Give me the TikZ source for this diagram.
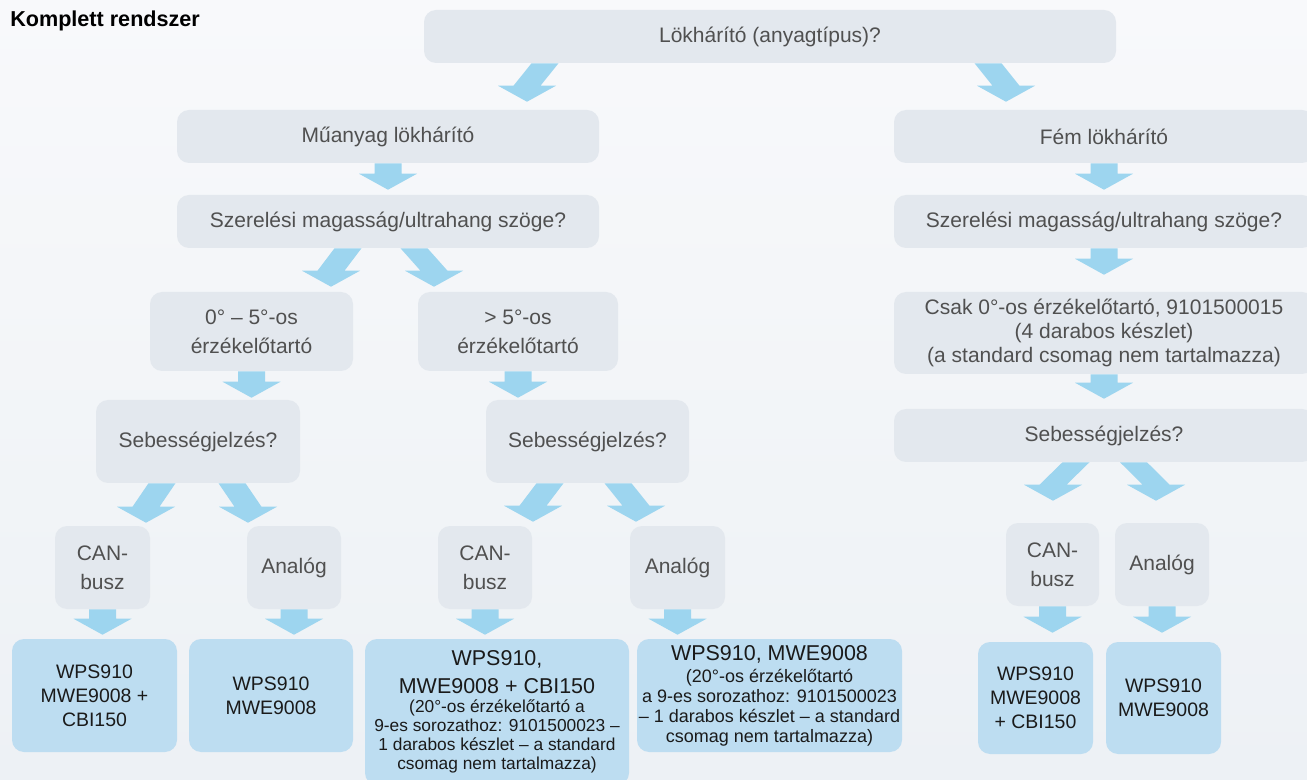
\documentclass[tikz,border=0pt]{standalone}
\usepackage{fontspec}
\setmainfont{Liberation Sans}
\usetikzlibrary{calc}
\definecolor{bgtop}{HTML}{F8F9FB}
\definecolor{bgbot}{HTML}{EDF1F5}
\definecolor{graybox}{HTML}{E3E8EE}
\definecolor{bluebox}{HTML}{BDDDF1}
\definecolor{arrowc}{HTML}{9DD5EF}
\definecolor{graytext}{HTML}{505050}
\definecolor{darktext}{HTML}{1A1A1A}
\newcommand\fz[2]{\fontsize{#1}{#2}\selectfont}
\newcommand\farrow[2]{\fill[arrowc] let \p1=#1, \p2=#2 in
 (\x1-10.125pt,\y1) -- (\x2-10.125pt,\y2+12pt) -- (\x2-21.75pt,\y2+12pt) -- (\x2,\y2)
 -- (\x2+21.75pt,\y2+12pt) -- (\x2+10.125pt,\y2+12pt) -- (\x1+10.125pt,\y1) -- cycle;}
\tikzset{
 gbox/.style={rounded corners=9pt, fill=graybox, text=graytext, align=center, inner sep=0pt, font=\fz{15.75}{22}},
 bbox/.style={rounded corners=9pt, fill=bluebox, text=darktext, align=center, inner sep=0pt, font=\fz{14.6}{18}},
 sz/.style 2 args={minimum width=#1*0.75pt, minimum height=#2*0.75pt},
}
\begin{document}
\begin{tikzpicture}[x=0.75pt,y=-0.75pt]
\useasboundingbox (0,0) rectangle (1307,780);
\clip (0,0) rectangle (1307,780);
\shade[top color=bgtop, bottom color=bgbot] (0,0) rectangle (1307,780);

\node[anchor=base west, font=\bfseries\fz{16.2}{18}, inner sep=0pt] (title) at (10,27) {Komplett rendszer};

% gray boxes
\node[gbox, sz={692}{53}] (top) at (770,36.5) {Lökhárító (anyagtípus)?};
\node[gbox, sz={422}{53}] (mu) at (388,136.5) {Műanyag lökhárító};
\node[gbox, sz={422}{53}] (sz1) at (388,221.5) {Szerelési magasság/ultrahang szöge?};
\node[gbox, sz={203}{79}] (a05) at (251.5,331.5) {0° – 5°-os\\érzékelőtartó};
\node[gbox, sz={200}{79}] (a5) at (518,331.5) {> 5°-os\\érzékelőtartó};
\node[gbox, sz={204}{83}] (seb1) at (198,441.5) {Sebességjelzés?};
\node[gbox, sz={203}{83}] (seb2) at (587.5,441.5) {Sebességjelzés?};
\node[gbox, sz={95}{83}] (can1) at (102.5,567.5) {CAN-\\busz};
\node[gbox, sz={94}{83}] (an1) at (294,567.5) {Analóg};
\node[gbox, sz={94}{83}] (can2) at (485,567.5) {CAN-\\busz};
\node[gbox, sz={95}{83}] (an2) at (677.5,567.5) {Analóg};
\node[gbox, sz={420}{53}] (fem) at (1104,136.5) {Fém lökhárító};
\node[gbox, sz={420}{53}] (sz2) at (1104,221.5) {Szerelési magasság/ultrahang szöge?};
\node[gbox, sz={420}{82}, font=\fz{15.75}{18}] (csak) at (1104,333) {Csak 0°-os érzékelőtartó, 9101500015\\(4 darabos készlet)\\(a standard csomag nem tartalmazza)};
\node[gbox, sz={420}{53}] (seb3) at (1104,435.5) {Sebességjelzés?};
\node[gbox, sz={93}{83}] (can3) at (1052.5,564.5) {CAN-\\busz};
\node[gbox, sz={94}{83}] (an3) at (1162,564.5) {Analóg};

% blue boxes
\node[bbox, sz={165}{113}] (b1) at (94.5,695.5) {WPS910\\MWE9008 +\\CBI150};
\node[bbox, sz={164}{113}] (b2) at (271,695.5) {WPS910\\MWE9008};
\node[bbox, sz={264}{146}, font=\fz{13}{14.25}] (b3) at (497,712)
 {\fz{16.1}{21}WPS910,\\[6.75pt]\fz{16.1}{21}MWE9008 + CBI150\\\fz{13}{14.25}(20°-os érzékelőtartó a\\\fz{13}{14.25}9-es sorozathoz: 9101500023 –\\\fz{13}{14.25}1 darabos készlet – a standard\\\fz{13}{14.25}csomag nem tartalmazza)};
\node[bbox, sz={265}{113}, font=\fz{13.5}{15}] (b4) at (769.5,695.5)
 {\fz{16.1}{21}WPS910, MWE9008\\[1.5pt]\fz{13.5}{15}(20°-os érzékelőtartó\\\fz{13.5}{15}a 9-es sorozathoz: 9101500023\\\fz{13.5}{15}– 1 darabos készlet – a standard\\\fz{13.5}{15}csomag nem tartalmazza)};
\node[bbox, sz={115}{112}] (b5) at (1035.5,698) {WPS910\\MWE9008\\+ CBI150};
\node[bbox, sz={115}{112}] (b6) at (1163.5,698) {WPS910\\MWE9008};

% arrows
\farrow{($(top.south)+(-225,0)$)}{($(mu.north)+(139,-8)$)}
\farrow{($(top.south)+(218,0)$)}{($(fem.north)+(-98,-8)$)}
\farrow{(mu.south)}{($(mu.south |- sz1.north)+(0,-5)$)}
\farrow{($(sz1.south)+(-40,0)$)}{($(a05.north)+(79.5,-5)$)}
\farrow{($(sz1.south)+(26,0)$)}{($(a5.north)+(-84,-5)$)}
\farrow{(a05.south)}{($(a05.south |- seb1.north)+(0,-2)$)}
\farrow{(a5.south)}{($(a5.south |- seb2.north)+(0,-2)$)}
\farrow{($(seb1.south)+(-36,0)$)}{($(can1.north)+(43.5,-3)$)}
\farrow{($(seb1.south)+(34,0)$)}{($(an1.north)+(-46,-3)$)}
\farrow{($(seb2.south)+(-37.5,0)$)}{($(can2.north)+(48,-4)$)}
\farrow{($(seb2.south)+(30.5,0)$)}{($(an2.north)+(-41.5,-4)$)}
\farrow{(can1.south)}{($(can1.south |- b1.north)+(0,-4)$)}
\farrow{(an1.south)}{($(an1.south |- b2.north)+(0,-4)$)}
\farrow{(can2.south)}{($(can2.south |- b3.north)+(0,-4)$)}
\farrow{(an2.south)}{($(an2.south |- b4.north)+(0,-4)$)}
\farrow{(fem.south)}{($(fem.south |- sz2.north)+(0,-5)$)}
\farrow{(sz2.south)}{($(sz2.south |- csak.north)+(0,-17)$)}
\farrow{(csak.south)}{($(csak.south |- seb3.north)+(0,-10)$)}
\farrow{($(seb3.south)+(-28,0)$)}{($(can3.north)+(0.5,-22)$)}
\farrow{($(seb3.south)+(29.5,0)$)}{($(an3.north)+(-6,-22)$)}
\farrow{(can3.south)}{($(can3.south |- b5.north)+(0,-9)$)}
\farrow{(an3.south)}{($(an3.south |- b6.north)+(0,-9)$)}
\end{tikzpicture}
\end{document}
